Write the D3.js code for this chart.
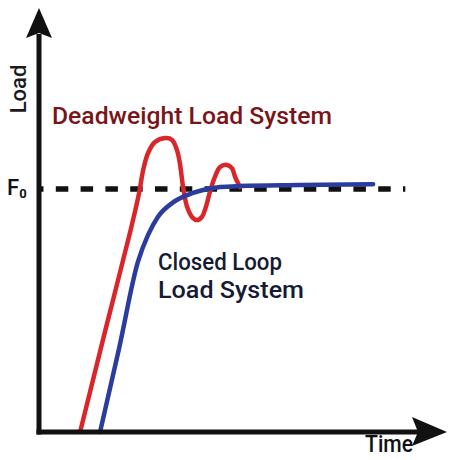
<!DOCTYPE html>
<html lang="en">
<head>
    <meta charset="UTF-8">
    <title>Load vs Time</title>
    <script src="https://d3js.org/d3.v7.min.js"></script>
</head>
<style>
    body {
        margin: 0;
        background: #fff;
    }
    svg {
        display: block;
        font-family: Roboto, "Open Sans", sans-serif;
    }
</style>
<body>
<div class="chart"></div>
<script>
  /** data: time (0-100) and load (F0 = 1) */
  var deadweightTime = [10.1, 16.2, 22.4, 24.6, 25.6, 26.8, 28.5, 31.0, 32.7, 33.9, 34.6, 35.4, 36.4, 37.8, 38.8,
    40.0, 41.0, 42.0, 43.2, 44.5, 46.2, 47.4, 48.2, 49.4];
  var deadweightLoad = [0, 0.412, 0.823, 0.984, 1.078, 1.148, 1.193, 1.21, 1.202, 1.16, 1.107, 1.008, 0.926, 0.881, 0.872,
    0.885, 0.926, 0.988, 1.049, 1.091, 1.099, 1.086, 1.049, 1.008];

  var closedLoopTime = [15.0, 19.7, 24.3, 26.8, 29.2, 32.7, 36.4, 40.3, 44.5, 49.4, 64.1, 82.1];
  var closedLoopLoad = [0, 0.346, 0.70, 0.811, 0.885, 0.942, 0.975, 0.996, 1.008, 1.012, 1.016, 1.02];

  var f0Level = 1;
  var f0End = 90;

  var seriesLabels = ['Deadweight Load System', 'Closed Loop', 'Load System'];
  var axisLabels = ['Load', 'Time'];

  var width = 453, height = 460;

  var svg = d3.select('.chart')
    .append('svg')
    .attr('width', width)
    .attr('height', height);

  /** scales: x axis sits at load 0, arrow tips near the edges */
  var x = d3.scaleLinear().domain([0, 100]).range([39, 446]);
  var y = d3.scaleLinear().domain([0, 1]).range([432, 189]);

  var line = d3.line()
    .x(function (d) { return x(d[0]); })
    .y(function (d) { return y(d[1]); });

  var deadweight = d3.zip(deadweightTime, deadweightLoad);
  var closedLoop = d3.zip(closedLoopTime, closedLoopLoad);

  /** F0 dashed reference line */
  svg.append('path')
    .attr('d', line([[0, f0Level], [f0End, f0Level]]))
    .attr('fill', 'none')
    .attr('stroke', '#111')
    .attr('stroke-width', 5.5)
    .attr('stroke-dasharray', '12.5,12.3')
    .attr('stroke-dashoffset', 8);

  /** response curves */
  svg.append('path')
    .attr('d', line.curve(d3.curveCatmullRom.alpha(0.5))(deadweight))
    .attr('fill', 'none')
    .attr('stroke', '#d9262b')
    .attr('stroke-width', 4.5)
    .attr('stroke-linecap', 'round')
    .attr('stroke-linejoin', 'round');

  svg.append('path')
    .attr('d', line.curve(d3.curveMonotoneX)(closedLoop))
    .attr('fill', 'none')
    .attr('stroke', '#2b3c9f')
    .attr('stroke-width', 4.5)
    .attr('stroke-linecap', 'round')
    .attr('stroke-linejoin', 'round');

  /** axes with arrow heads */
  var x0 = x(0), y0 = y(0);
  var yTip = 8, xTip = 447;

  svg.append('line')
    .attr('x1', x0).attr('y1', y0 + 2.5)
    .attr('x2', x0).attr('y2', yTip + 26)
    .attr('stroke', '#111')
    .attr('stroke-width', 5);

  svg.append('line')
    .attr('x1', x0 - 2.5).attr('y1', y0)
    .attr('x2', xTip - 26).attr('y2', y0)
    .attr('stroke', '#111')
    .attr('stroke-width', 5);

  svg.append('path')
    .attr('d', 'M' + x0 + ',' + yTip + 'L' + (x0 + 13) + ',' + (yTip + 30) +
      'L' + x0 + ',' + (yTip + 25) + 'L' + (x0 - 13) + ',' + (yTip + 30) + 'Z')
    .attr('fill', '#111');

  svg.append('path')
    .attr('d', 'M' + xTip + ',' + y0 + 'L' + (xTip - 35) + ',' + (y0 - 15) +
      'L' + (xTip - 29) + ',' + y0 + 'L' + (xTip - 35) + ',' + (y0 + 14) + 'Z')
    .attr('fill', '#111');

  /** axis labels */
  svg.append('text')
    .attr('transform', 'translate(26,89) rotate(-90)')
    .attr('text-anchor', 'middle')
    .style('font-size', '22px')
    .style('font-weight', 500)
    .attr('fill', '#1b1b1b')
    .text(axisLabels[0]);

  svg.append('text')
    .attr('x', 365)
    .attr('y', 452)
    .attr('textLength', 48)
    .attr('lengthAdjust', 'spacingAndGlyphs')
    .style('font-size', '24px')
    .style('font-weight', 500)
    .attr('fill', '#111')
    .text(axisLabels[1]);

  var f0 = svg.append('text')
    .attr('x', 7)
    .attr('y', y(f0Level) + 6)
    .style('font-size', '22px')
    .style('font-weight', 500)
    .attr('fill', '#111');
  f0.append('tspan').text('F');
  f0.append('tspan')
    .attr('dy', 3)
    .style('font-size', '13px')
    .style('font-weight', 700)
    .text('0');

  /** series labels */
  svg.append('text')
    .attr('x', 52)
    .attr('y', 124)
    .attr('textLength', 280)
    .attr('lengthAdjust', 'spacingAndGlyphs')
    .style('font-size', '24.5px')
    .style('font-weight', 500)
    .attr('fill', '#7a1418')
    .text(seriesLabels[0]);

  var closedWidths = [124, 146];
  svg.selectAll('.closed-label')
    .data(seriesLabels.slice(1))
    .enter().append('text')
    .classed('closed-label', true)
    .attr('x', 158)
    .attr('y', function (_, i) { return 270 + i * 28; })
    .attr('textLength', function (_, i) { return closedWidths[i]; })
    .attr('lengthAdjust', 'spacingAndGlyphs')
    .style('font-size', '23px')
    .style('font-weight', 500)
    .attr('fill', '#161a35')
    .text(function (d) { return d; });
</script>
</body>
</html>
